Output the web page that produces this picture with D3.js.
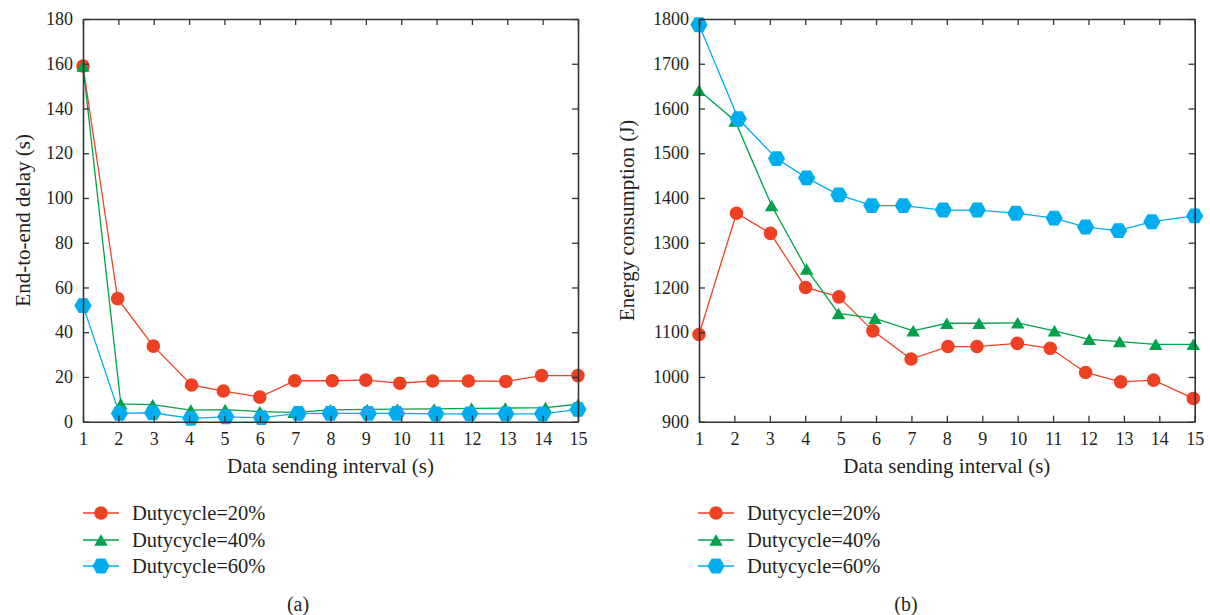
<!DOCTYPE html>
<html>
<head>
<meta charset="utf-8">
<script src="https://cdn.jsdelivr.net/npm/d3@7"></script>
<style>
  html, body { margin: 0; padding: 0; background: #fff; }
  svg { display: block; }
</style>
</head>
<body>
<svg id="chart" width="1210" height="615"></svg>
<script>
// ---- data ----
const xTickLabels = [1, 2, 3, 4, 5, 6, 7, 8, 9, 10, 11, 12, 13, 14, 15];
const delayTicks = [0, 20, 40, 60, 80, 100, 120, 140, 160, 180];
const energyTicks = [900, 1000, 1100, 1200, 1300, 1400, 1500, 1600, 1700, 1800];
const seriesNames = ["Dutycycle=20%", "Dutycycle=40%", "Dutycycle=60%"];
const seriesColors = ["#ee4123", "#00a14b", "#00aeef"];

// (a) End-to-end delay
const delayX20 = [1, 1.98, 2.99, 4.07, 4.97, 6.0, 6.99, 8.05, 9.0, 9.96, 10.89, 11.9, 12.96, 13.97, 15];
const delay20  = [159, 55, 33.8, 16.4, 13.7, 11, 18.3, 18.3, 18.6, 17.2, 18.2, 18.2, 18, 20.6, 20.6];
const delayX40 = [1, 2.07, 2.97, 4.05, 5.02, 6.0, 6.97, 8.0, 9.04, 9.89, 10.93, 11.99, 12.94, 14.08, 15];
const delay40  = [159, 8, 7.6, 5.2, 5.4, 4.5, 4.2, 5.3, 5.5, 5.6, 5.7, 6, 6.1, 6.3, 7.8];
const delayX60 = [1, 2.03, 2.97, 4.05, 5.04, 6.05, 7.09, 7.99, 9.07, 9.87, 10.98, 11.94, 12.96, 14.0, 15];
const delay60  = [51.9, 3.7, 4, 1.5, 2.2, 1.8, 3.7, 3.7, 3.7, 3.7, 3.5, 3.5, 3.5, 3.5, 5.5];

// (b) Energy consumption
const energyX20 = [1, 2.06, 3.02, 4.01, 4.95, 5.91, 6.99, 8.03, 8.85, 9.99, 10.92, 11.92, 12.91, 13.84, 14.96];
const energy20  = [1095, 1366, 1321, 1200, 1179, 1103, 1040, 1068, 1068, 1075, 1064, 1010, 989, 993, 952];
const energyX40 = [1, 2.02, 3.05, 4.04, 4.94, 5.97, 7.05, 8.0, 8.91, 10.0, 11.04, 12.02, 12.88, 13.9, 14.96];
const energy40  = [1641, 1572, 1383, 1241, 1142, 1131, 1103, 1120, 1120, 1121, 1103, 1084, 1079, 1073, 1073];
const energyX60 = [1, 2.11, 3.19, 4.04, 4.95, 5.88, 6.77, 7.9, 8.86, 9.95, 11.03, 11.92, 12.85, 13.79, 15];
const energy60  = [1787, 1577, 1488, 1445, 1407, 1383, 1383, 1373, 1373, 1366, 1355, 1335, 1327, 1347, 1360];

// ---- drawing ----
const FONT = '"Liberation Serif", "Times New Roman", serif';
const TEXT_COLOR = "#231f20";
const svg = d3.select("#chart");
const axisColor = "#333";

function txt(sel, size) {
  return sel.attr("font-family", FONT).attr("font-size", size).attr("fill", TEXT_COLOR);
}

function markerPath(kind) {
  if (kind === 0) { // circle
    const r = 6.8;
    return `M${-r},0A${r},${r} 0 1,0 ${r},0A${r},${r} 0 1,0 ${-r},0Z`;
  }
  if (kind === 1) { // triangle
    const w = 13.5, h = 11.5;
    return `M0,${-h/2}L${w/2},${h/2}L${-w/2},${h/2}Z`;
  }
  // hexagon, pointed left/right
  const R = 8.6;
  const pts = d3.range(6).map(i => {
    const a = i * Math.PI / 3;
    return [R * Math.cos(a), R * Math.sin(a)];
  });
  return "M" + pts.map(p => p.join(",")).join("L") + "Z";
}

function drawPanel(cfg) {
  const { left, right, top, bottom, yDomain, yTicks, xs, ys, yLabel, yLabelX,
          legendX, tag, tagX } = cfg;
  const x = d3.scaleLinear().domain([1, 15]).range([left, right]);
  const y = d3.scaleLinear().domain(yDomain).range([bottom, top]);
  const g = svg.append("g");

  // series
  const line = d3.line().x(d => x(d[0])).y(d => y(d[1]));
  xs.forEach((xv, si) => {
    const pts = xv.map((v, i) => [v, ys[si][i]]);
    const sg = g.append("g");
    sg.append("path").datum(pts).attr("d", line)
      .attr("fill", "none").attr("stroke", seriesColors[si]).attr("stroke-width", 1.3);
    sg.selectAll("path.m").data(pts).join("path").attr("class", "m")
      .attr("d", markerPath(si))
      .attr("transform", d => `translate(${x(d[0])},${y(d[1])})`)
      .attr("fill", seriesColors[si]);
  });

  // axes
  const styleAxis = sel => {
    sel.attr("font-family", FONT);
    sel.selectAll("path.domain").attr("stroke", axisColor).attr("stroke-width", 1.6);
    sel.selectAll(".tick line").attr("stroke", axisColor).attr("stroke-width", 1.3);
    txt(sel.selectAll("text"), 18);
  };
  g.append("g").attr("transform", `translate(0,${bottom})`)
    .call(d3.axisBottom(x).tickValues(xTickLabels).tickFormat(d3.format("d"))
      .tickSize(-6).tickSizeOuter(0).tickPadding(11))
    .call(styleAxis);
  g.append("g").attr("transform", `translate(0,${top})`)
    .call(d3.axisTop(x).tickValues(xTickLabels).tickFormat("").tickSize(-6).tickSizeOuter(0))
    .call(styleAxis);
  g.append("g").attr("transform", `translate(${left},0)`)
    .call(d3.axisLeft(y).tickValues(yTicks).tickFormat(d3.format("d"))
      .tickSize(-6).tickSizeOuter(0).tickPadding(10))
    .call(styleAxis);
  g.append("g").attr("transform", `translate(${right},0)`)
    .call(d3.axisRight(y).tickValues(yTicks).tickFormat("").tickSize(-6).tickSizeOuter(0))
    .call(styleAxis);

  // axis titles
  txt(g.append("text"), 21).attr("x", (left + right) / 2).attr("y", 473)
    .attr("text-anchor", "middle").text("Data sending interval (s)");
  txt(g.append("text"), 21)
    .attr("transform", `translate(${yLabelX},${(top + bottom) / 2}) rotate(-90)`)
    .attr("text-anchor", "middle").text(yLabel);

  // legend
  const legY = [513, 540, 566];
  seriesNames.forEach((name, si) => {
    const lg = g.append("g").attr("transform", `translate(${legendX},${legY[si]})`);
    lg.append("line").attr("x1", 0).attr("x2", 36).attr("y1", 0).attr("y2", 0)
      .attr("stroke", seriesColors[si]).attr("stroke-width", 1.3);
    lg.append("path").attr("d", markerPath(si)).attr("transform", "translate(18,0)")
      .attr("fill", seriesColors[si]);
    txt(lg.append("text"), 20.5).attr("x", 49).attr("y", 0).attr("dy", "0.35em").text(name);
  });

  // panel tag
  txt(g.append("text"), 20).attr("x", tagX).attr("y", 611).attr("text-anchor", "middle").text(tag);
}

drawPanel({
  left: 83, right: 578, top: 19, bottom: 421.7,
  yDomain: [0, 180], yTicks: delayTicks,
  xs: [delayX20, delayX40, delayX60], ys: [delay20, delay40, delay60],
  yLabel: "End-to-end delay (s)", yLabelX: 30,
  legendX: 83, tag: "(a)", tagX: 298
});
drawPanel({
  left: 699, right: 1194.7, top: 19, bottom: 421.7,
  yDomain: [900, 1800], yTicks: energyTicks,
  xs: [energyX20, energyX40, energyX60], ys: [energy20, energy40, energy60],
  yLabel: "Energy consumption (J)", yLabelX: 634,
  legendX: 698, tag: "(b)", tagX: 906
});
</script>
</body>
</html>
